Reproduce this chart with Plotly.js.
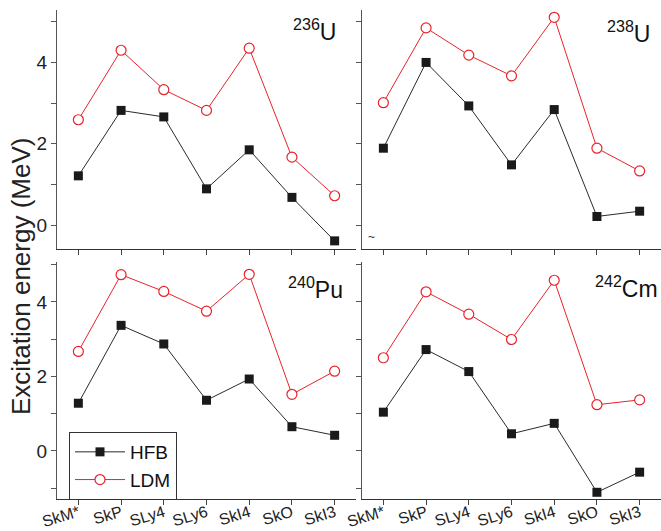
<!DOCTYPE html>
<html>
<head>
<meta charset="utf-8">
<script src="https://cdn.plot.ly/plotly-3.0.1.min.js"></script>
<style>html,body{margin:0;padding:0;background:#fff;}#chart{width:661px;height:531px;}</style>
</head>
<body>
<div id="chart"></div>
<script>
const models = ['SkM*', 'SkP', 'SLy4', 'SLy6', 'SkI4', 'SkO', 'SkI3'];
const nuclei = ['<sup>236</sup>U', '<sup>238</sup>U', '<sup>240</sup>Pu', '<sup>242</sup>Cm'];
const hfb_U236  = [1.21, 2.82, 2.66, 0.89, 1.85, 0.68, -0.39];
const ldm_U236  = [2.59, 4.30, 3.33, 2.82, 4.35, 1.67, 0.72];
const hfb_U238  = [1.89, 4.00, 2.93, 1.48, 2.84, 0.21, 0.34];
const ldm_U238  = [3.01, 4.85, 4.18, 3.67, 5.11, 1.89, 1.33];
const hfb_Pu240 = [1.28, 3.37, 2.87, 1.36, 1.93, 0.65, 0.42];
const ldm_Pu240 = [2.67, 4.73, 4.28, 3.75, 4.74, 1.52, 2.14];
const hfb_Cm242 = [1.04, 2.72, 2.13, 0.46, 0.74, -1.11, -0.57];
const ldm_Cm242 = [2.50, 4.27, 3.67, 2.99, 4.58, 1.24, 1.37];
const yTickVals = [-1, 0, 1, 2, 3, 4, 5];
const yTickText = ['', '0', '', '2', '', '4', ''];

const panels = [
  {hfb: hfb_U236, ldm: ldm_U236, xa: 'x', ya: 'y'},
  {hfb: hfb_U238, ldm: ldm_U238, xa: 'x2', ya: 'y2'},
  {hfb: hfb_Pu240, ldm: ldm_Pu240, xa: 'x3', ya: 'y3'},
  {hfb: hfb_Cm242, ldm: ldm_Cm242, xa: 'x4', ya: 'y4'}
];

const traces = [];
panels.forEach((p, i) => {
  traces.push({
    x: models, y: p.hfb, xaxis: p.xa, yaxis: p.ya, type: 'scatter', mode: 'lines+markers',
    name: 'HFB', legendgroup: 'HFB', showlegend: i === 0,
    line: {color: '#2a2a2a', width: 1},
    marker: {symbol: 'square', size: 9, color: '#1a1a1a'}
  });
  traces.push({
    x: models, y: p.ldm, xaxis: p.xa, yaxis: p.ya, type: 'scatter', mode: 'lines+markers',
    name: 'LDM', legendgroup: 'LDM', showlegend: i === 0,
    line: {color: '#e8232a', width: 1},
    marker: {symbol: 'circle', size: 10, color: '#ffffff', line: {color: '#e8232a', width: 1.2}}
  });
});

const W = 661, H = 531, L = 57, R = 0, T = 10, B = 32;
const pw = W - L - R, ph = H - T - B;
const xdomL = [0, (356 - L) / pw], xdomR = [(362 - L) / pw, 1];
const ydomT = [(H - B - 249) / ph, 1], ydomB = [0, (H - B - 262) / ph];

function xax(dom, anchor, labels) {
  return {
    domain: dom, anchor: anchor, type: 'category', range: [-0.5, 6.5],
    showline: true, linecolor: '#333', linewidth: 1.2, mirror: false,
    ticks: 'outside', ticklen: 5, tickwidth: 1, tickcolor: '#444',
    showticklabels: labels, tickangle: -17, ticklabelstandoff: -8,
    tickfont: {family: 'Liberation Sans, Arial, sans-serif', size: 16, color: '#222'},
    showgrid: false, zeroline: false, fixedrange: true
  };
}
function yax(dom, anchor, range, labels) {
  return {
    domain: dom, anchor: anchor, range: range,
    showline: true, linecolor: '#555', linewidth: 1.2, mirror: false,
    ticks: 'outside', ticklen: 5, tickwidth: 1, tickcolor: '#555',
    tickmode: 'array', tickvals: yTickVals, ticktext: yTickText,
    showticklabels: labels,
    tickfont: {family: 'Liberation Sans, Arial, sans-serif', size: 19, color: '#222'},
    showgrid: false, zeroline: false, fixedrange: true
  };
}

const topRange = [-0.59, 5.29], botRange = [-1.29, 5.07];
const annFont = {family: 'Liberation Sans, Arial, sans-serif', size: 23, color: '#111'};

const layout = {
  width: W, height: H,
  margin: {l: L, r: R, t: T, b: B, pad: 0},
  paper_bgcolor: '#fff', plot_bgcolor: 'rgba(0,0,0,0)',
  showlegend: true,
  legend: {
    x: (69 - L) / pw, y: (H - B - 432) / ph, xanchor: 'left', yanchor: 'top',
    bgcolor: '#fff', bordercolor: '#333', borderwidth: 1,
    font: {family: 'Liberation Sans, Arial, sans-serif', size: 19, color: '#111'},
    tracegroupgap: 0, itemwidth: 50
  },
  xaxis: xax(xdomL, 'y', false),
  yaxis: yax(ydomT, 'x', topRange, true),
  xaxis2: xax(xdomR, 'y2', false),
  yaxis2: yax(ydomT, 'x2', topRange, false),
  xaxis3: xax(xdomL, 'y3', true),
  yaxis3: yax(ydomB, 'x3', botRange, true),
  xaxis4: xax(xdomR, 'y4', true),
  yaxis4: yax(ydomB, 'x4', botRange, false),
  annotations: [
    {text: nuclei[0], xref: 'x domain', yref: 'y domain', x: 0.94, y: 0.916, xanchor: 'right', yanchor: 'middle', showarrow: false, font: annFont},
    {text: nuclei[1], xref: 'x2 domain', yref: 'y2 domain', x: 0.97, y: 0.91, xanchor: 'right', yanchor: 'middle', showarrow: false, font: annFont},
    {text: nuclei[2], xref: 'x3 domain', yref: 'y3 domain', x: 0.963, y: 0.89, xanchor: 'right', yanchor: 'middle', showarrow: false, font: annFont},
    {text: nuclei[3], xref: 'x4 domain', yref: 'y4 domain', x: 0.997, y: 0.895, xanchor: 'right', yanchor: 'middle', showarrow: false, font: annFont},
    {text: '~', xref: 'x2 domain', yref: 'y2 domain', x: 0.033, y: 0.05, xanchor: 'center', yanchor: 'middle', showarrow: false,
     font: {family: 'Liberation Sans, Arial, sans-serif', size: 12, color: '#333'}},
    {text: 'Excitation energy (MeV)', xref: 'paper', yref: 'paper', x: (21 - L) / pw, y: (H - B - 277) / ph,
     xanchor: 'center', yanchor: 'middle', textangle: -90, showarrow: false,
     font: {family: 'Liberation Sans, Arial, sans-serif', size: 26, color: '#222'}}
  ]
};

Plotly.newPlot('chart', traces, layout, {displayModeBar: false, staticPlot: true});
</script>
</body>
</html>
